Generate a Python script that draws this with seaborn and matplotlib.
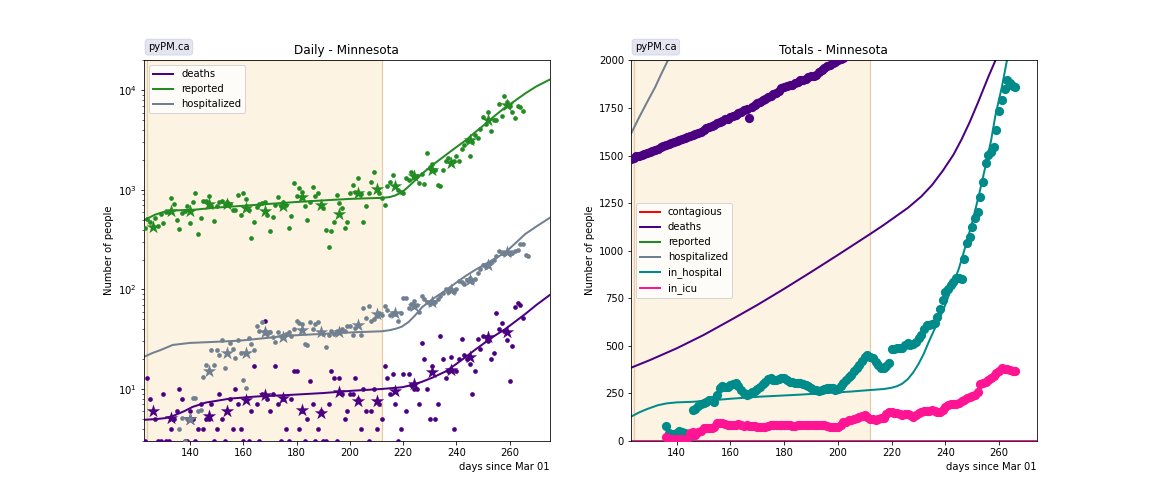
import numpy as np
import pandas as pd
import matplotlib
matplotlib.use("Agg")
import matplotlib.pyplot as plt
import seaborn as sns

# ---------------- data: daily (left panel) ----------------
rep_start = 123
rep_daily = [415, 512, 480, 425, 520, 438, 570, 466, 597, 600, 824, 718, 496, 403, 592, 610, 686, 463, 752, 927,
             359, 520, 775, 780, 877, 686, 484, 695, 752, 780, 700, 752, 720, 634, 630, 883, 557, 927, 807, 625,
             327, 473, 680, 722, 735, 752, 565, 385, 531, 700, 845, 690, 752, 700, 418, 544, 1175, 863, 1040, 948,
             686, 496, 752, 1064, 863, 927, 700, 655, 394, 266, 385, 473, 883, 735, 655, 412, 473, 927, 1122, 950,
             1310, 900, 481, 686, 927, 1194, 1506, 1000, 927, 824, 706, 1089, 1194, 1426, 1100, 1007, 950, 927, 1318, 1250,
             1506, 1350, 1392, 1175, 1450, 1148, 2338, 1700, 1824, 1600, 1122, 1089, 1590, 1950, 2100, 1900, 1972, 2213, 1940, 2600,
             2800, 3100, 2213, 3013, 3570, 3300, 4100, 5375, 4600, 6040, 3945, 5050, 5050, 7310, 5590, 8870, 7610, 7000, 6040, 5250,
             7000, 6870, 6270]

hosp_start = 136
hosp_daily = [4.0, 5.1, 3.0, 5.0, 5.0, 8.1, 8.1, 6.0, 6.1, 13.1, 17.4, 15, 24.7, 17.4, 24.7, 22.1, 31.3, 16.1, 23, 29,
              25.2, 20.3, 31.3, 23, 12.3, 10.2, 32.4, 28, 24.7, 43.2, 38, 46.8, 38, 35.7, 37, 33.6, 29.4, 37.2, 34, 33,
              36, 37, 34.4, 40, 48.5, 46, 45, 28.3, 27.8, 47.5, 40, 45, 47.5, 37, 36, 26.3, 35, 38, 36, 38.5,
              37.2, 40, 38.6, 42.7, 43, 34.9, 41, 44, 34.9, 64.7, 52, 67.8, 48.5, 50, 54.4, 57.7, 55, 67.8, 62.5, 55,
              58.5, 57, 48.5, 58, 81.5, 83, 65, 71, 76, 70, 60, 86.7, 80, 75, 71, 76, 74, 80, 86.7, 92.5,
              101, 94, 98, 95, 100, 122, 118, 113, 125, 131, 120, 128, 145, 160, 175, 170, 180, 190, 200, 215,
              245, 230, 226, 240, 226, 232, 245, 250, 287, 287, 220, 219]

deaths_start = 123
deaths_daily = [3, 13, 8, 6, 5, 3, 3, 9, 3, 3, 4, 5, 6, 10, 8, 3, 3, 6, 5, 3,
                4, 7, 4, 5, 5, 7, 3, 4, 9, 5, 3, 6, 8, 4, 10, 7, 4, 3, 8, 3,
                6, 17, 7, 3, 9, 48, 8, 6, 9, 17, 7, 3, 8, 4, 3, 8, 15, 15, 4, 6,
                3, 5, 12, 7, 3, 4, 6, 3, 3, 7, 15, 13, 3, 13, 9, 5, 6, 9, 9, 13,
                8, 4, 10, 6, 3, 6, 10, 4, 7, 5, 17, 13, 9, 14, 7, 3, 4, 14, 6, 14,
                11, 10, 10, 7, 29, 20, 10, 5, 17, 5, 7, 34, 20, 13, 15, 21, 4, 15, 20, 32,
                22, 20, 18, 9, 15, 32, 25, 34, 33, 30, 20, 23, 58, 40, 46, 38, 31, 12, 27, 67,
                73, 70, 52]

# weekly averages (stars)
week_days = [126, 133, 140, 147, 154, 161, 168, 175, 182, 189, 196, 203, 210, 217, 224, 231, 238, 245, 252, 259]
rep_weekly = [422, 611, 611, 722, 722, 655, 620, 686, 844, 706, 574, 933, 1023, 1104, 1373, 1600, 1866, 3180, 5050, 7140]
deaths_weekly = [6.0, 5.1, 5.0, 5.4, 6.0, 7.8, 8.6, 8.1, 6.2, 5.7, 9.3, 7.5, 7.5, 9.6, 11.2, 14.9, 15.6, 20.8, 33.1, 37.7]
hosp_week_days = [140, 147, 154, 161, 168, 175, 182, 189, 196, 203, 210, 217, 224, 231, 238, 245, 252, 259]
hosp_weekly = [5.0, 15.1, 23, 23, 37.2, 33.1, 39.2, 37.7, 37.7, 44, 56.8, 57.7, 68.7, 74.3, 99.5, 125, 176, 237]

# model curves (daily)
rep_model_days = [123, 127, 131, 136, 142, 150, 160, 170, 180, 190, 200, 207, 212, 215, 217, 219.5, 222, 224.5, 227,
                  231, 235.7, 239.5, 243.3, 247, 250.8, 254.5, 258.3, 262, 265.8, 270, 275]
rep_model = [500, 565, 611, 625, 634, 665, 693, 725, 757, 785, 813, 825, 832, 848, 880, 948, 1080, 1250, 1448,
             1780, 2213, 2640, 3130, 3800, 4600, 5600, 6780, 7900, 9340, 11000, 12860]
hosp_model_days = [122.4, 126, 129, 133.6, 139.9, 150, 158.7, 170, 177.5, 190, 201.3, 212, 215, 217.5, 219.5, 222, 224.5,
                   227, 231, 235.7, 239.5, 243.3, 247, 250.8, 254.5, 258.3, 262, 265.8, 270, 275]
hosp_model = [20.8, 23.0, 24.6, 27.7, 29.0, 29.8, 30.6, 32.8, 34.4, 35.8, 37.1, 38.0, 39.0, 40.5, 42.3, 47, 55,
              66, 80, 97, 115, 136, 157, 180, 205, 235, 290, 361, 430, 525]
deaths_model_days = [123, 128, 131, 134, 138, 141, 146, 150, 155, 165, 177, 190, 201, 212, 219.5, 223, 227, 231,
                     235.7, 239.5, 243.3, 247, 250.8, 254.5, 258.3, 262, 265.8, 270, 275]
deaths_model = [4.9, 5.0, 5.1, 5.4, 6.0, 6.6, 7.3, 7.6, 8.0, 8.4, 8.7, 9.1, 9.6, 10.0, 10.4, 10.9, 11.8, 13.0,
                14.9, 17.5, 20.8, 24.8, 29.4, 34.5, 40, 47.5, 56.7, 70, 88]

# ---------------- data: totals (right panel) ----------------
deaths_tot_start = 123
deaths_tot = [1482, 1490, 1496, 1500, 1503, 1508, 1515, 1520, 1524, 1530, 1537, 1543, 1548, 1555, 1560, 1564, 1570, 1575, 1580, 1585,
              1592, 1597, 1604, 1609, 1614, 1619, 1626, 1637, 1645, 1650, 1656, 1663, 1669, 1675, 1682, 1690, 1695, 1702, 1710, 1716,
              1722, 1730, 1738, 1745, 1700, 1754, 1765, 1774, 1782, 1790, 1800, 1808, 1815, 1822, 1830, 1842, 1855, 1862, 1866, 1869,
              1873, 1880, 1888, 1895, 1900, 1905, 1912, 1916, 1918, 1924, 1938, 1950, 1963, 1972, 1978, 1985, 1993, 2000, 2008, 2015,
              2025]

inhosp_start = 136
inhosp = [79, 40, 38, 37, 40, 54, 45, 40, 30, 26, 163, 166, 185, 197, 200, 206, 215, 218, 206, 240,
          276, 290, 285, 285, 295, 299, 307, 290, 268, 250, 242, 247, 255, 264, 275, 285, 300, 311, 325, 329,
          322, 320, 325, 329, 329, 318, 311, 308, 303, 303, 303, 300, 295, 290, 280, 270, 268, 265, 268, 272,
          276, 280, 276, 268, 275, 290, 303, 320, 338, 347, 370, 382, 399, 420, 443, 452, 440, 434, 415, 399,
          385, 382, 395, 408, 481, 485, 487, 487, 490, 505, 513, 504, 510, 522, 540, 557, 590, 609, 612, 615,
          620, 650, 696, 741, 785, 800, 819, 835, 857, 855, 850, 955, 1040, 1072, 1125, 1170, 1204, 1282, 1361, 1463,
          1501, 1520, 1545, 1633, 1737, 1790, 1851, 1895, 1880, 1866, 1860]

icu_start = 136
icu = [19, 12, 12, 12, 12, 12, 12, 12, 12, 44, 46, 31, 49, 55, 66, 66, 66, 70, 72, 92,
       95, 95, 90, 85, 83, 85, 86, 88, 85, 81, 82, 80, 78, 77, 76, 75, 74, 73, 78, 82,
       84, 84, 82, 84, 84, 82, 83, 81, 81, 83, 84, 84, 84, 84, 84, 84, 84, 84, 84, 84,
       78, 75, 73, 73, 73, 85, 100, 102, 108, 112, 117, 122, 128, 132, 135, 125, 117, 114, 112, 115,
       120, 122, 140, 152, 150, 148, 147, 140, 135, 140, 144, 135, 126, 135, 145, 152, 156, 160, 160, 162,
       160, 155, 152, 165, 178, 188, 196, 196, 196, 200, 208, 214, 225, 232, 236, 240, 260, 302, 305, 311,
       320, 329, 340, 355, 370, 385, 380, 376, 372, 370, 369]

deaths_tot_model_days = [123, 130, 140, 150, 160, 170, 180, 190, 200, 212, 217, 221, 226, 231, 235, 239, 243, 246,
                         249, 252, 254, 256, 258.6, 262]
deaths_tot_model = [385, 425, 487, 557, 635, 715, 800, 888, 978, 1088, 1135, 1175, 1225, 1285, 1345, 1420, 1505, 1585,
                    1675, 1775, 1845, 1915, 2000, 2140]
inhosp_model_days = [123, 126, 129, 133, 136.4, 140, 146, 160, 171, 185, 196, 205, 212, 217, 220, 222, 224, 226, 228,
                     230, 232, 233.8, 236.5, 239.4, 242, 245, 247.5, 250, 252.5, 255, 257, 258.6, 261, 263, 266]
inhosp_model = [128, 150, 168, 188, 198, 203, 206, 222, 233, 243, 252, 260, 268, 273, 280, 288, 302, 325, 360,
                405, 460, 521, 605, 696, 795, 906, 1025, 1151, 1295, 1450, 1580, 1711, 1860, 2009, 2300]
hosp_tot_model_days = [123, 126, 129, 132, 134, 137.6, 141]
hosp_tot_model = [1615, 1700, 1781, 1860, 1921, 2026, 2120]
icu_model_days = [123, 274]
icu_model = [0, 0]
rep_tot_model_days = [123, 274]
rep_tot_model = [45000, 200000]
cont_model_days = [123, 274]
cont_model = [20000, 90000]

# ---------------- styling ----------------
C_DEATHS = '#4B0082'
C_REP = 'forestgreen'
C_HOSP = 'slategrey'
C_INHOSP = 'darkcyan'
C_ICU = 'deeppink'
C_CONT = 'red'
SPAN_FACE = '#FDF3E3'
SPAN_EDGE = '#E5CCA8'


def days_for(start, vals):
    return np.arange(start, start + len(vals))


fig, (ax1, ax2) = plt.subplots(1, 2, figsize=(16, 7), dpi=72)
fig.subplots_adjust(left=0.125, right=0.9, top=0.88, bottom=0.125, wspace=0.2)

for ax in (ax1, ax2):
    ax.axvspan(100, 124, facecolor=SPAN_FACE, edgecolor=SPAN_EDGE, lw=1.2, zorder=0)
    ax.axvspan(124, 212, facecolor=SPAN_FACE, edgecolor=SPAN_EDGE, lw=1.2, zorder=0)

# ---- left: daily ----
sns.lineplot(x=deaths_model_days, y=deaths_model, color=C_DEATHS, lw=2, label='deaths', ax=ax1)
sns.lineplot(x=rep_model_days, y=rep_model, color=C_REP, lw=2, label='reported', ax=ax1)
sns.lineplot(x=hosp_model_days, y=hosp_model, color=C_HOSP, lw=2, label='hospitalized', ax=ax1)

sns.scatterplot(x=days_for(deaths_start, deaths_daily), y=deaths_daily, color=C_DEATHS, s=22, linewidth=0, ax=ax1, legend=False, zorder=3)
sns.scatterplot(x=days_for(rep_start, rep_daily), y=rep_daily, color=C_REP, s=22, linewidth=0, ax=ax1, legend=False, zorder=3)
sns.scatterplot(x=days_for(hosp_start, hosp_daily), y=hosp_daily, color=C_HOSP, s=22, linewidth=0, ax=ax1, legend=False, zorder=3)

sns.scatterplot(x=week_days, y=deaths_weekly, color=C_DEATHS, marker='*', s=200, linewidth=0, ax=ax1, legend=False, zorder=4)
sns.scatterplot(x=week_days, y=rep_weekly, color=C_REP, marker='*', s=200, linewidth=0, ax=ax1, legend=False, zorder=4)
sns.scatterplot(x=hosp_week_days, y=hosp_weekly, color=C_HOSP, marker='*', s=200, linewidth=0, ax=ax1, legend=False, zorder=4)

ax1.set_yscale('log')
ax1.set_ylim(3, 20000)
ax1.set_xlim(122.8, 275)
ax1.set_title('Daily - Minnesota')
ax1.set_ylabel('Number of people')
ax1.set_xlabel('days since Mar 01', loc='right')
ax1.legend(loc='upper left')

# ---- right: totals ----
sns.lineplot(x=cont_model_days, y=cont_model, color=C_CONT, lw=2, label='contagious', ax=ax2)
sns.lineplot(x=deaths_tot_model_days, y=deaths_tot_model, color=C_DEATHS, lw=2, label='deaths', ax=ax2)
sns.lineplot(x=rep_tot_model_days, y=rep_tot_model, color=C_REP, lw=2, label='reported', ax=ax2)
sns.lineplot(x=hosp_tot_model_days, y=hosp_tot_model, color=C_HOSP, lw=2, label='hospitalized', ax=ax2)
sns.lineplot(x=inhosp_model_days, y=inhosp_model, color=C_INHOSP, lw=2, label='in_hospital', ax=ax2)
sns.lineplot(x=icu_model_days, y=icu_model, color=C_ICU, lw=2, label='in_icu', ax=ax2)

sns.scatterplot(x=days_for(deaths_tot_start, deaths_tot), y=deaths_tot, color=C_DEATHS, s=85, linewidth=0, ax=ax2, legend=False, zorder=3)
sns.scatterplot(x=days_for(inhosp_start, inhosp), y=inhosp, color=C_INHOSP, s=85, linewidth=0, ax=ax2, legend=False, zorder=3)
sns.scatterplot(x=days_for(icu_start, icu), y=icu, color=C_ICU, s=85, linewidth=0, ax=ax2, legend=False, zorder=3)

ax2.set_ylim(0, 2000)
ax2.set_xlim(123, 274)
ax2.set_title('Totals - Minnesota')
ax2.set_ylabel('Number of people')
ax2.set_xlabel('days since Mar 01', loc='right')
ax2.legend(loc='center left')

for ax in (ax1, ax2):
    ax.text(0.01, 1.022, 'pyPM.ca', transform=ax.transAxes, ha='left', va='bottom',
            bbox=dict(facecolor='navy', alpha=0.1, boxstyle='round', edgecolor='navy'))

fig.savefig('out.png', dpi=72)
